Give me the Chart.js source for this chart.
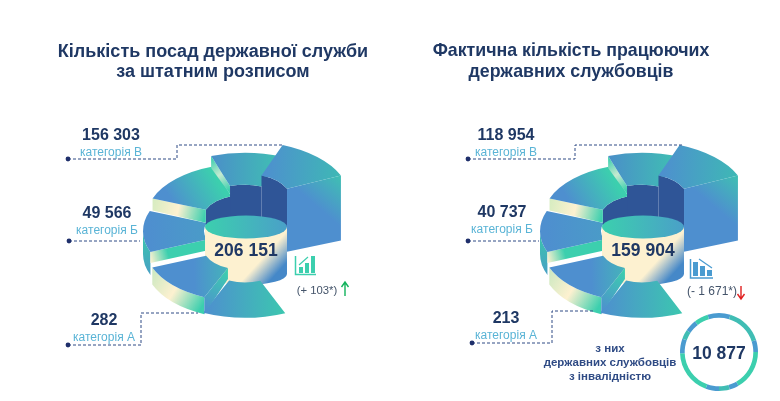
<!DOCTYPE html>
<html lang="uk">
<head>
<meta charset="utf-8">
<title>Державна служба</title>
<script src="https://cdn.jsdelivr.net/npm/chart.js@4"></script>
<style>
  html, body { margin: 0; padding: 0; background: #fff; }
  #page { position: relative; width: 780px; height: 401px; overflow: hidden; font-family: "Liberation Sans", Arial, sans-serif; }
  #page canvas, #page svg { position: absolute; }
  .t { position: absolute; transform: translate(-50%, -50%); white-space: nowrap; }
  .title { font-weight: bold; font-size: 18px; color: #1f3864; }
  .title2 { font-weight: bold; font-size: 17.75px; color: #1f3864; }
  .num { font-weight: bold; font-size: 16px; color: #1f3864; }
  .cat { font-size: 12px; color: #5ab4d6; }
  .total { font-weight: bold; font-size: 17.5px; color: #1f3864; }
  .delta { font-size: 12px; color: #44546a; }
  .delta-small { font-size: 11.3px; color: #44546a; }
  .note { font-weight: bold; font-size: 11.5px; color: #2f4b85; }
</style>
</head>
<body>
<div id="page">
  <canvas id="spiral-left"></canvas>
  <canvas id="spiral-right"></canvas>
  <canvas id="ring"></canvas>
  <svg id="marks" width="780" height="401"></svg>
</div>
<script>
const categories = ['категорія В', 'категорія Б', 'категорія А'];
const positionsValues = ['156 303', '49 566', '282'];
const workersValues = ['118 954', '40 737', '213'];
const positionsTotal = '206 151';
const workersTotal = '159 904';
const positionsChange = '(+ 103*)';
const workersChange = '(- 1 671*)';
const disabledValue = '10 877';
const titleLeft = ['Кількість посад державної служби', 'за штатним розписом'];
const titleRight = ['Фактична кількість працюючих', 'державних службовців'];
const noteLines = ['з них', 'державних службовців', 'з інвалідністю'];

// sector sweeps in degrees (last one is the empty gap)
const sectorSpans = [47, 44, 43, 50, 40, 45, 91];
const ringSpans = [34, 55, 18, 60, 14, 16, 20, 68, 22, 14, 18, 21];

const BLUE = '#4e8fcf', GREEN = '#3ccfae', TEAL = '#40bdb4', CREAM = '#fdf1d0', DARK = '#2f5597';
const SQUISH = 0.55;

// per sector drawing: lift, radii tweaks, wall heights, gradients (px relative to the centre)
const shapes = [
  { lift: 31, dOuter: -2, dInner: -7, top: [[-41, 80, 39, 80], [BLUE, '#3cc6b0']] },
  { lift: 17, dOuter: -5, dInner: -4, wall: 17, faceStart: [17, 11],
    top: [[-82, 40, -20, 38], [BLUE, BLUE, '#45b0bc']],
    wallFill: [[-95, 40, -41, 73], ['#c8e8c0', CREAM, GREEN]],
    faceFill: [[-41, 80, -18, 40], [BLUE, GREEN]] },
  { lift: 1, dOuter: -3, dInner: -5, wall: 23, faceStart: [11, 11],
    top: [[-95, 3, -40, 0], [BLUE, '#4a9bc8']],
    wallFill: [[-100, 10, -100, 50], ['#3cc0b0', '#4a9bc8']],
    faceFill: [[-94, 32, -58, 22], [CREAM, GREEN, GREEN]] },
  { lift: -12, dOuter: -6, dInner: -4, faceStart: [12, 13], inside: 35,
    top: [[-75, -32, -32, -57], [BLUE, GREEN]],
    faceFill: [[-94, -27, -40, -13], ['#d5ecc0', CREAM, GREEN]] },
  { lift: -20, dOuter: -1, dInner: 0, faceStart: [12, 8], inside: 35,
    top: [[-32, -67, 31, -67], ['#4a90c8', TEAL]],
    faceFill: [[-36, -70, -15, -40], [GREEN, '#c5ead0', GREEN]] },
  { lift: -31, dOuter: 0, dInner: 0, faceEnd: [65, 63], inside: 45,
    top: [[18, -60, 92, -57], [BLUE, '#3fb6b6']],
    faceFill: [[94, -53, 70, -25], [TEAL, BLUE]] },
  null
];
const DRAW_ORDER_BACK = [2, 3, 4, 5];
const DRAW_ORDER_FRONT = [0, 1];

function gradient(ctx, x, y, def) {
  const c = def[0];
  const g = ctx.createLinearGradient(x + c[0], y + c[1], x + c[2], y + c[3]);
  def[1].forEach((col, i) => g.addColorStop(i / (def[1].length - 1), col));
  return g;
}

function drawSector(ctx, arc, s) {
  const x = arc.x, y = arc.y + s.lift;
  const a0 = arc.startAngle, a1 = arc.endAngle;
  const ro = arc.outerRadius + s.dOuter, ri = arc.innerRadius + s.dInner;
  const px = (a, r) => x + r * Math.cos(a);
  const py = (a, r) => y + r * SQUISH * Math.sin(a);

  // dark inner wall seen through the hole
  if (s.inside) {
    ctx.beginPath();
    ctx.ellipse(x, y, ri, ri * SQUISH, 0, a0, a1);
    ctx.ellipse(x, y + s.inside, ri, ri * SQUISH, 0, a1, a0, true);
    ctx.closePath();
    ctx.fillStyle = DARK;
    ctx.fill();
  }
  // outer wall on the front half only
  if (s.wall) {
    const tau = Math.PI * 2;
    const start = ((a0 % tau) + tau) % tau;
    const b0 = Math.max(start, 0), b1 = Math.min(start + (a1 - a0), Math.PI);
    if (b1 > b0) {
      ctx.beginPath();
      ctx.ellipse(x, y, ro, ro * SQUISH, 0, b0, b1);
      ctx.ellipse(x, y + s.wall, ro, ro * SQUISH, 0, b1, b0, true);
      ctx.closePath();
      ctx.fillStyle = gradient(ctx, arc.x, arc.y, s.wallFill);
      ctx.fill();
    }
  }
  // radial face at the step
  const face = (a, h) => {
    ctx.beginPath();
    ctx.moveTo(px(a, ro), py(a, ro));
    ctx.lineTo(px(a, ri), py(a, ri));
    ctx.lineTo(px(a, ri), py(a, ri) + h[1]);
    ctx.lineTo(px(a, ro), py(a, ro) + h[0]);
    ctx.closePath();
    ctx.fillStyle = gradient(ctx, arc.x, arc.y, s.faceFill);
    ctx.fill();
  };
  if (s.faceStart) face(a0, s.faceStart);
  if (s.faceEnd) face(a1, s.faceEnd);
  // top surface
  ctx.beginPath();
  ctx.ellipse(x, y, ro, ro * SQUISH, 0, a0, a1);
  ctx.ellipse(x, y, ri, ri * SQUISH, 0, a1, a0, true);
  ctx.closePath();
  ctx.fillStyle = gradient(ctx, arc.x, arc.y, s.top);
  ctx.fill();
}

function drawCylinder(ctx, arc) {
  const x = arc.x + 1, rx = arc.innerRadius - 5;
  const yTop = arc.y - 3, yBottom = arc.y + 44;
  ctx.beginPath();
  ctx.moveTo(x - rx, yTop);
  ctx.lineTo(x - rx, yBottom);
  ctx.ellipse(x, yBottom, rx, 11, 0, Math.PI, 0, true);
  ctx.lineTo(x + rx, yTop);
  ctx.closePath();
  const g = ctx.createLinearGradient(x + 10, arc.y + 22, x + 32, arc.y + 42);
  g.addColorStop(0, CREAM);
  g.addColorStop(0.3, CREAM);
  g.addColorStop(1, '#4588c8');
  ctx.fillStyle = g;
  ctx.fill();
  ctx.beginPath();
  ctx.ellipse(x, yTop, rx, 11.5, 0, 0, Math.PI * 2);
  const t = ctx.createLinearGradient(x - rx, yTop, x + rx, yTop);
  t.addColorStop(0, GREEN);
  t.addColorStop(1, '#4aa0c8');
  ctx.fillStyle = t;
  ctx.fill();
}

const spiralPlugin = {
  id: 'spiral',
  beforeDatasetDraw(chart, args) {
    const ctx = chart.ctx;
    const arcs = args.meta.data;
    ctx.save();
    DRAW_ORDER_BACK.forEach(i => drawSector(ctx, arcs[i], shapes[i]));
    drawCylinder(ctx, arcs[0]);
    DRAW_ORDER_FRONT.forEach(i => drawSector(ctx, arcs[i], shapes[i]));
    ctx.restore();
    return false;
  }
};

function renderSpiral(id, left, top) {
  const canvas = document.getElementById(id);
  canvas.style.left = left + 'px';
  canvas.style.top = top + 'px';
  canvas.width = 260;
  canvas.height = 260;
  return new Chart(canvas.getContext('2d'), {
    type: 'doughnut',
    data: { labels: sectorSpans.map((v, i) => 'сектор ' + i), datasets: [{ data: sectorSpans, borderWidth: 0 }] },
    options: {
      responsive: false, animation: false, events: [],
      rotation: 157, radius: 105, cutout: '43.8%',
      plugins: { legend: { display: false }, tooltip: { enabled: false } }
    },
    plugins: [spiralPlugin]
  });
}

renderSpiral('spiral-left', 115, 100);
renderSpiral('spiral-right', 512, 100);

const ringCanvas = document.getElementById('ring');
ringCanvas.style.left = '674px';
ringCanvas.style.top = '307px';
ringCanvas.width = 90;
ringCanvas.height = 90;
new Chart(ringCanvas.getContext('2d'), {
  type: 'doughnut',
  data: {
    labels: ringSpans.map((v, i) => 'дуга ' + i),
    datasets: [{
      data: ringSpans,
      borderWidth: 0,
      backgroundColor: ringSpans.map((v, i) => i % 2 === 0 ? '#4a9bd0' : (i % 4 === 1 ? TEAL : GREEN))
    }]
  },
  options: {
    responsive: false, animation: false, events: [],
    rotation: -17, radius: 39, cutout: '88%',
    plugins: { legend: { display: false }, tooltip: { enabled: false } }
  }
});

// texts
const page = document.getElementById('page');
function addText(cls, text, x, y) {
  const d = document.createElement('div');
  d.className = 't ' + cls;
  d.textContent = text;
  d.style.left = x + 'px';
  d.style.top = y + 'px';
  page.appendChild(d);
}

titleLeft.forEach((s, i) => addText('title', s, 213, 51 + i * 20));
titleRight.forEach((s, i) => addText('title2', s, 571, 50 + i * 21));

const leftLabelX = [111, 107, 104], rightLabelX = [506, 502, 506];
const leftLabelY = [135, 213, 320], rightLabelY = [135, 212, 318];
categories.forEach((c, i) => {
  addText('num', positionsValues[i], leftLabelX[i], leftLabelY[i]);
  addText('cat', c, leftLabelX[i], leftLabelY[i] + 17);
  addText('num', workersValues[i], rightLabelX[i], rightLabelY[i]);
  addText('cat', c, rightLabelX[i], rightLabelY[i] + 17);
});

addText('total', positionsTotal, 246, 250);
addText('total', workersTotal, 643, 250);
addText('delta-small', positionsChange, 317, 290);
addText('delta', workersChange, 712, 291);
noteLines.forEach((s, i) => addText('note', s, 610, 348 + i * 14));
addText('total', disabledValue, 719, 353);

// leader lines, icons and arrows
const leaders = [
  'M68 159H177V145H283', 'M69 241H140', 'M68 345H141V313H198',
  'M468 159H575V145H683', 'M468 241H539', 'M472 343H552V311H593'
];
const dots = [[68, 159], [69, 241], [68, 345], [468, 159], [468, 241], [472, 343]];
let svg = '';
leaders.forEach(d => { svg += `<path d="${d}" fill="none" stroke="#2f4b85" stroke-width="1" stroke-dasharray="3 2"/>`; });
dots.forEach(p => { svg += `<circle cx="${p[0]}" cy="${p[1]}" r="2.4" fill="#1f2f6b"/>`; });
// rising bars icon
svg += `<g fill="#3ccfae"><rect x="299" y="267" width="4" height="6"/><rect x="305" y="263" width="4" height="10"/><rect x="311" y="256" width="4" height="17"/>
<path d="M295.5 256V274.5H316" fill="none" stroke="#3ccfae" stroke-width="1.5"/><path d="M299 265L308 257" stroke="#3ccfae" stroke-width="1.2"/></g>`;
// falling bars icon
svg += `<g fill="#4a9bd0"><rect x="693" y="262" width="5" height="14"/><rect x="700" y="266" width="5" height="10"/><rect x="707" y="270" width="5" height="6"/>
<path d="M690.5 259V278H713" fill="none" stroke="#4a9bd0" stroke-width="1.5"/><path d="M699 259L712 268" stroke="#4a9bd0" stroke-width="1.2"/></g>`;
svg += `<path d="M345 296V283M341.5 287L345 282L348.5 287" fill="none" stroke="#12b35c" stroke-width="1.4"/>`;
svg += `<path d="M741 286V298M737.5 294L741 299L744.5 294" fill="none" stroke="#e02020" stroke-width="1.4"/>`;
document.getElementById('marks').innerHTML = svg;
</script>
</body>
</html>
